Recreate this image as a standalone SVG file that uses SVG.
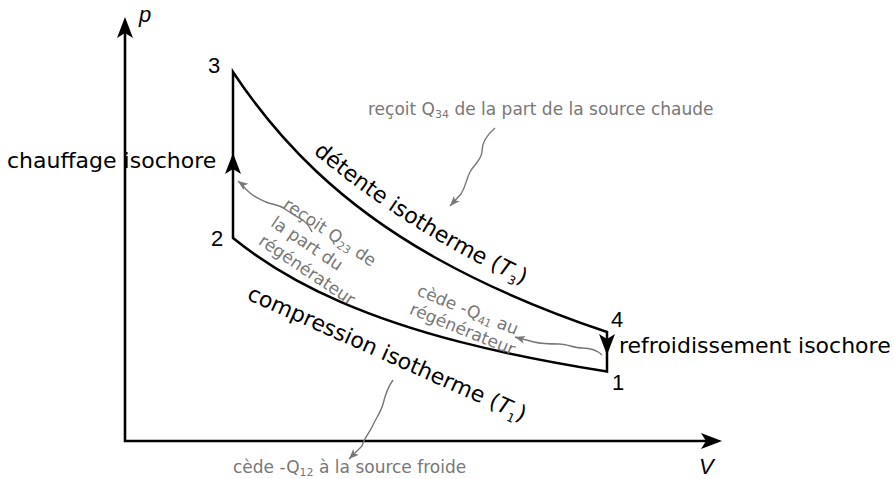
<svg xmlns="http://www.w3.org/2000/svg" width="894" height="479" viewBox="0 0 894 479">
<style>
.ax{stroke:#000;stroke-width:2.6;fill:none}
.cyc{stroke:#000;stroke-width:2.5;fill:none;stroke-linejoin:miter}
.wav{stroke:#777;stroke-width:1.4;fill:none;marker-end:url(#ga)}
.lbl{font-family:"DejaVu Sans",sans-serif;font-size:22px;fill:#000}
.num{font-family:"Liberation Sans",Arial,sans-serif;font-size:22px;fill:#000}
.g{font-family:"DejaVu Sans",sans-serif;font-size:17px;fill:#777}
</style>
<defs>
<path id="ah" d="M0,0 L-21,-8 L-16,0 L-21,8 Z" fill="#000"/>
<marker id="ga" markerUnits="userSpaceOnUse" viewBox="-11 -5 12 10" refX="0" refY="0" markerWidth="12" markerHeight="10" orient="auto"><path d="M0,0 L-10,-4 L-7.5,0 L-10,4 Z" fill="#777"/></marker>
<path id="tp3" d="M313,153 Q416,238 531,288" fill="none"/>
</defs>
<g id="axes">
<path class="ax" d="M125,28 V441 H712"/>
<use href="#ah" transform="translate(125,17) rotate(-90)"/>
<use href="#ah" transform="translate(722,441)"/>
<text class="num" x="139" y="22" font-style="italic">p</text>
<text class="num" x="699" y="474" font-style="italic">V</text>
</g>
<g id="cycle">
<path class="cyc" d="M233,72 C260.7,113.7 288.3,144.9 316,171 C356,208.75 396,235.7 436,258 C493,289.8 550,313 607,332 L607,371.5 C558,363.7 509,354.5 460,341.9 C420,331.6 380,319 340,301.6 C304.3,286 268.7,267 233,238 Z"/>
<use href="#ah" transform="translate(233,153) rotate(-90)"/>
<use href="#ah" transform="translate(607,355) rotate(90)"/>
</g>
<g id="point-3"><text class="num" x="208" y="73">3</text></g>
<g id="point-2"><text class="num" x="211" y="246">2</text></g>
<g id="point-4"><text class="num" x="611" y="327">4</text></g>
<g id="point-1"><text class="num" x="612" y="390">1</text></g>
<g id="label-chauffage"><text class="lbl" x="7" y="168">chauffage isochore</text></g>
<g id="label-refroidissement"><text class="lbl" x="619" y="353">refroidissement isochore</text></g>
<g id="label-detente"><text class="lbl"><textPath href="#tp3">détente isotherme (<tspan font-style="italic">T</tspan><tspan font-size="12" dy="5">3</tspan><tspan dy="-5">)</tspan></textPath></text></g>
<g id="label-compression"><text class="lbl" transform="translate(246,299) rotate(24)">compression isotherme (<tspan font-style="italic">T</tspan><tspan font-size="12" dy="5">1</tspan><tspan dy="-5">)</tspan></text></g>
<g id="note-q34"><text class="g" x="368" y="115">reçoit Q<tspan font-size="11" dy="3">34</tspan><tspan dy="-3"> de la part de la source chaude</tspan></text></g>
<g id="note-q12"><text class="g" x="233" y="473">cède -Q<tspan font-size="11" dy="3">12</tspan><tspan dy="-3"> à la source froide</tspan></text></g>
<g id="note-q23"><text class="g" transform="translate(282,207) rotate(34)"><tspan x="0" y="0">reçoit Q<tspan font-size="11" dy="3">23</tspan><tspan dy="-3"> de</tspan></tspan><tspan x="0" y="22">la part du</tspan><tspan x="0" y="44">régénérateur</tspan></text></g>
<g id="note-q41"><text class="g" transform="translate(416,295) rotate(22)"><tspan x="0" y="0">cède -Q<tspan font-size="11" dy="3">41</tspan><tspan dy="-3"> au</tspan></tspan><tspan x="0" y="20">régénérateur</tspan></text></g>
<g id="connectors">
<path class="wav" d="M312,232 C309,225 306,222 301,219 S292,214 285,209 S273,205 266,202 S256,198 250,193 S242,184 238,181"/>
<path class="wav" d="M495,128 C488,134 482,142 482,151 S474,164 470,172 S466,186 461,194 L450,206"/>
<path class="wav" d="M393,380 C387,388 385,396 383,404 S376,418 373,425 S364,438 362,446 L349,459"/>
<path class="wav" d="M602,355 C597,350 590,348 582,348 S567,344 559,344 S542,344 534,342 S522,339 515,337"/>
</g>
</svg>
